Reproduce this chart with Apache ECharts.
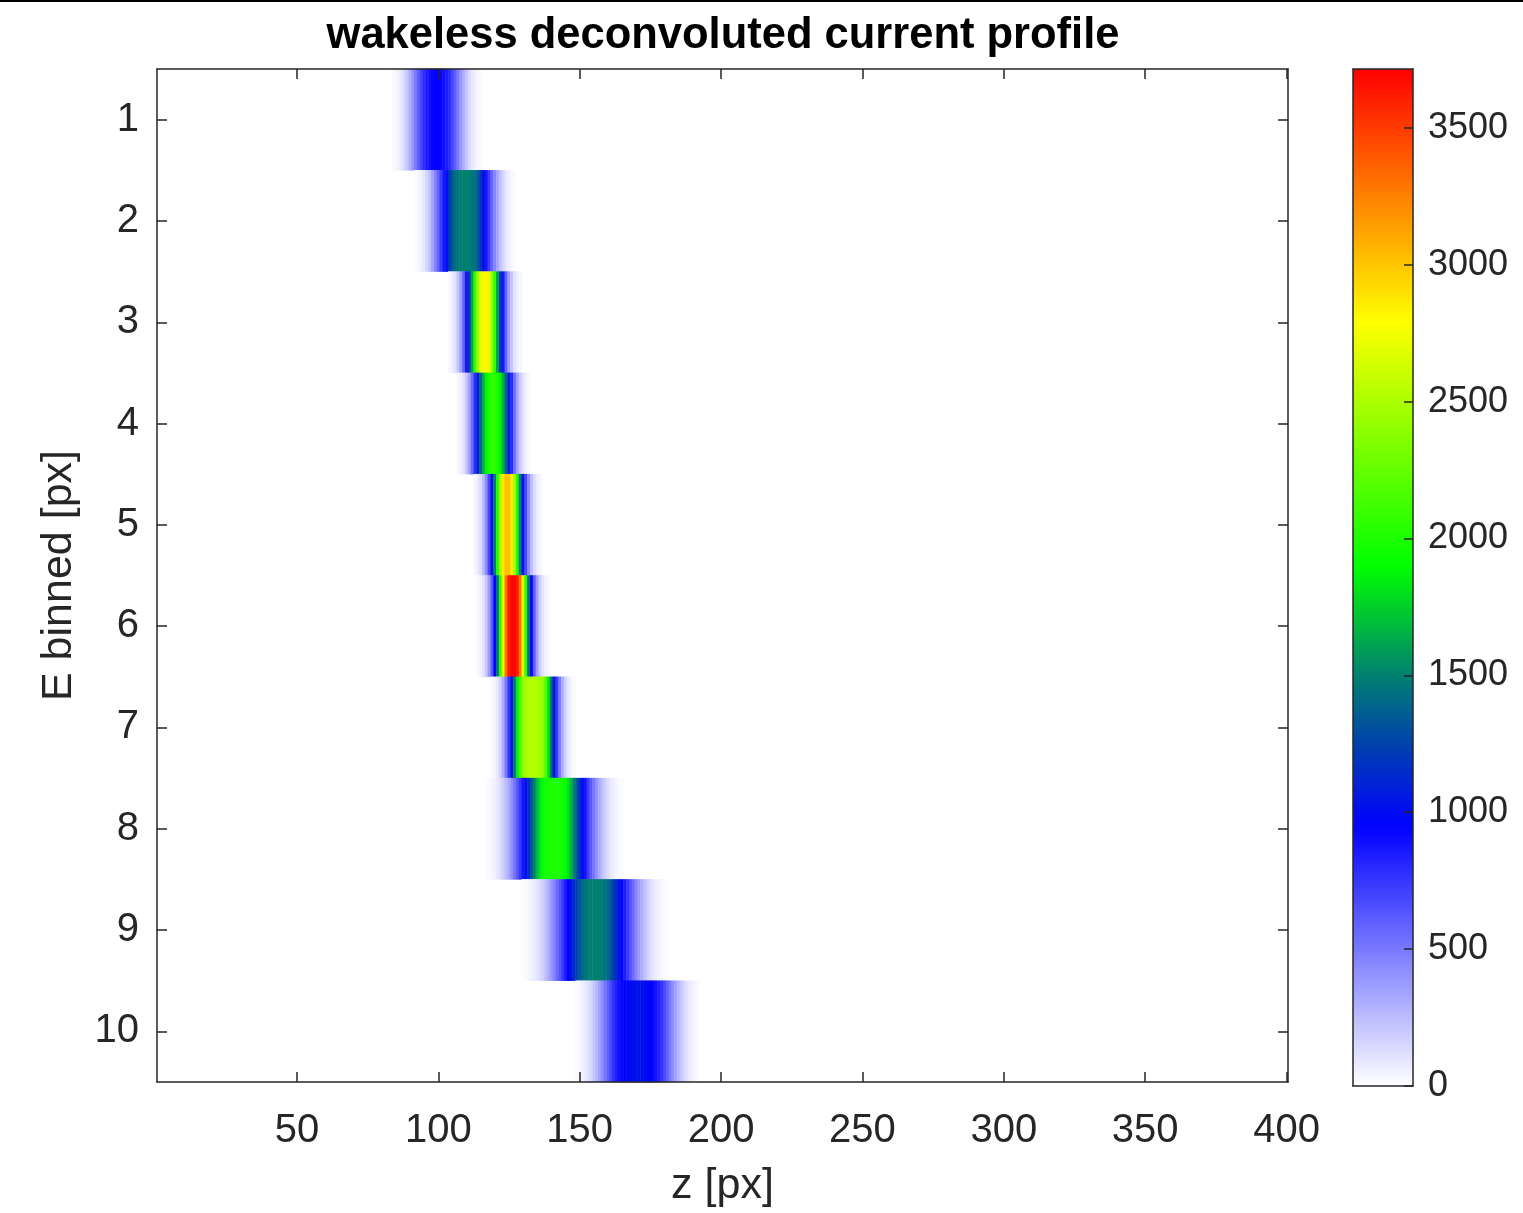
<!DOCTYPE html>
<html>
<head>
<meta charset="utf-8">
<script src="https://cdn.jsdelivr.net/npm/echarts@6/dist/echarts.min.js"></script>
<style>
html,body{margin:0;padding:0;background:#ffffff;}
#chart{width:1523px;height:1213px;}
</style>
</head>
<body>
<div id="chart"></div>
<script>
// ---------------- data ----------------
const titleText = 'wakeless deconvoluted current profile';
const xName = 'z [px]';
const yName = 'E binned [px]';
const zBinCount = 400;                       // z [px] columns 1..400
const xTickLabels = [50, 100, 150, 200, 250, 300, 350, 400];
const yCategories = ['1', '2', '3', '4', '5', '6', '7', '8', '9', '10'];
const cbarTicks = [0, 500, 1000, 1500, 2000, 2500, 3000, 3500];
const cbarMin = 0;
const cbarMax = 3715;

// first z [px] of each row's listed profile
const rowStarts = [84, 92, 104, 107, 113, 114, 119, 117, 130, 149];

// current profile per E bin, one value per z pixel starting at rowStarts[i]
const row1 = [15,30,55,92,145,215,300,395,495,595,690,775,845,895,930,947,
              947,930,895,845,775,690,595,495,395,300,215,145,92,55,30,15];
const row2 = [15,30,55,95,155,235,335,450,580,720,870,1020,1200,1340,1440,1460,1490,1500,
              1500,1490,1460,1440,1340,1200,1020,870,720,580,450,335,235,155,95,55,30,15];
const row3 = [30,60,115,210,360,580,870,1220,1620,2050,2420,2700,2820,
              2820,2700,2420,2050,1620,1220,870,580,360,210,115,60,30];
const row4 = [28,58,110,200,340,540,790,1080,1380,1650,1870,2000,2050,
              2050,2000,1870,1650,1380,1080,790,540,340,200,110,58,28];
const row5 = [35,70,135,250,430,690,1040,1480,2000,2500,2870,3020,
              3020,2870,2500,2000,1480,1040,690,430,250,135,70,35];
const row6 = [25,52,105,200,360,610,970,1450,2050,2700,3300,3620,3700,
              3700,3620,3300,2700,2050,1450,970,610,360,200,105,52,25];
const row7 = [20,45,90,170,300,490,750,1070,1450,1850,2180,2380,2470,2510,2520,
              2520,2510,2470,2380,2180,1850,1450,1070,750,490,300,170,90,45,20];
const row8 = [12,22,38,60,90,130,180,245,320,410,510,620,740,870,1010,1160,1330,1510,1680,1810,1900,1950,1980,1995,
              2000,
              1995,1980,1950,1900,1810,1680,1510,1330,1160,1010,870,740,620,510,410,320,245,180,130,90,60,38,22,12];
const row9 = [12,20,32,48,70,98,135,180,235,300,375,455,545,640,740,840,940,1040,1140,1240,1330,1400,1450,1480,1495,1500,
              1500,1495,1480,1450,1400,1330,1240,1140,1040,940,840,740,640,545,455,375,300,235,180,135,98,70,48,32,20,12];
const row10 = [20,32,50,75,108,150,205,270,340,420,505,595,680,760,830,885,930,965,990,1005,1015,1020,
               1020,1015,1005,990,965,930,885,830,760,680,595,505,420,340,270,205,150,108,75,50,32,20];

// colormap anchors (value -> rgb), style only
const cmapAnchors = [
  [0,    [255, 255, 255]],
  [950,  [0, 0, 255]],
  [1250, [0, 66, 172]],
  [1500, [0, 128, 112]],
  [1900, [0, 255, 0]],
  [2790, [255, 255, 0]],
  [3715, [255, 0, 0]]
];

// ---------------- build ----------------
const zCategories = [];
for (let z = 1; z <= zBinCount; z++) zCategories.push(String(z));

const rows = [row1, row2, row3, row4, row5, row6, row7, row8, row9, row10];
const heatData = [];
rows.forEach(function (vals, r) {
  vals.forEach(function (v, k) {
    heatData.push([rowStarts[r] + k - 1, r, v]);
  });
});

function cmapAt(v) {
  for (let i = 1; i < cmapAnchors.length; i++) {
    const a = cmapAnchors[i - 1], b = cmapAnchors[i];
    if (v <= b[0]) {
      const t = (v - a[0]) / (b[0] - a[0]);
      const c = a[1].map(function (ch, j) { return Math.round(ch + (b[1][j] - ch) * t); });
      return 'rgb(' + c.join(',') + ')';
    }
  }
  const last = cmapAnchors[cmapAnchors.length - 1][1];
  return 'rgb(' + last.join(',') + ')';
}
const cmapColors = [];
const nColors = 256;
for (let i = 0; i < nColors; i++) {
  cmapColors.push(cmapAt(cbarMin + (cbarMax - cbarMin) * i / (nColors - 1)));
}

const FONT = '"Liberation Sans", Arial, Helvetica, sans-serif';
const AX = '#262626';
const isXTick = function (index, value) { return xTickLabels.indexOf(Number(value)) >= 0; };

const chart = echarts.init(document.getElementById('chart'), null, { renderer: 'canvas' });
const option = {
  backgroundColor: '#ffffff',
  animation: false,
  textStyle: { fontFamily: FONT },
  grid: [
    { left: 157, top: 69, width: 1131, height: 1017, containLabel: false },
    { left: 1353, top: 69, width: 60, height: 1017, containLabel: false }
  ],
  xAxis: [
    {
      type: 'category', gridIndex: 0, data: zCategories, position: 'bottom', z: 5,
      boundaryGap: true,
      axisLine: { show: true, onZero: false, lineStyle: { color: AX, width: 1.5 } },
      axisTick: { show: true, inside: true, length: 10, alignWithLabel: true, interval: isXTick, lineStyle: { color: AX, width: 1.5 } },
      axisLabel: { show: true, interval: isXTick, fontSize: 40, color: AX, margin: 29, fontFamily: FONT },
      splitLine: { show: false },
      name: xName, nameLocation: 'middle', nameGap: 83,
      nameTextStyle: { fontSize: 43, color: AX, fontFamily: FONT }
    },
    {
      type: 'category', gridIndex: 0, data: zCategories, position: 'top', z: 5,
      boundaryGap: true,
      axisLine: { show: true, onZero: false, lineStyle: { color: AX, width: 1.5 } },
      axisTick: { show: true, inside: true, length: 10, alignWithLabel: true, interval: isXTick, lineStyle: { color: AX, width: 1.5 } },
      axisLabel: { show: false },
      splitLine: { show: false }
    },
    {
      type: 'category', gridIndex: 1, data: [''], position: 'bottom', z: 5,
      axisLine: { show: true, onZero: false, lineStyle: { color: AX, width: 1.5 } },
      axisTick: { show: false }, axisLabel: { show: false }, splitLine: { show: false }
    },
    {
      type: 'category', gridIndex: 1, data: [''], position: 'top', z: 5,
      axisLine: { show: true, onZero: false, lineStyle: { color: AX, width: 1.5 } },
      axisTick: { show: false }, axisLabel: { show: false }, splitLine: { show: false }
    }
  ],
  yAxis: [
    {
      type: 'category', gridIndex: 0, data: yCategories, inverse: true, position: 'left', z: 5,
      boundaryGap: true,
      axisLine: { show: true, onZero: false, lineStyle: { color: AX, width: 1.5 } },
      axisTick: { show: true, inside: true, length: 10, alignWithLabel: true, interval: 0, lineStyle: { color: AX, width: 1.5 } },
      axisLabel: { show: true, interval: 0, fontSize: 40, color: AX, margin: 18, fontFamily: FONT, padding: [4, 0, 0, 0] },
      splitLine: { show: false },
      name: yName, nameLocation: 'middle', nameGap: 76, nameRotate: 90,
      nameTextStyle: { fontSize: 43, color: AX, fontFamily: FONT }
    },
    {
      type: 'category', gridIndex: 0, data: yCategories, inverse: true, position: 'right', z: 5,
      boundaryGap: true,
      axisLine: { show: true, onZero: false, lineStyle: { color: AX, width: 1.5 } },
      axisTick: { show: true, inside: true, length: 10, alignWithLabel: true, interval: 0, lineStyle: { color: AX, width: 1.5 } },
      axisLabel: { show: false },
      splitLine: { show: false }
    },
    {
      type: 'value', gridIndex: 1, min: cbarMin, max: cbarMax, position: 'right', z: 5,
      axisLine: { show: true, onZero: false, lineStyle: { color: AX, width: 1.5 } },
      axisTick: { show: true, inside: true, length: 9, customValues: cbarTicks, lineStyle: { color: AX, width: 1.5 } },
      axisLabel: {
        show: true, customValues: cbarTicks, fontSize: 36, color: AX, margin: 15, fontFamily: FONT,
        padding: [7, 0, 0, 0],
        formatter: function (v) { return String(v); }
      },
      splitLine: { show: false }
    },
    {
      type: 'value', gridIndex: 1, min: cbarMin, max: cbarMax, position: 'left', z: 5,
      axisLine: { show: true, onZero: false, lineStyle: { color: AX, width: 1.5 } },
      axisTick: { show: false }, axisLabel: { show: false }, splitLine: { show: false }
    }
  ],
  visualMap: {
    type: 'continuous',
    seriesIndex: 0,
    min: cbarMin, max: cbarMax,
    calculable: false,
    orient: 'vertical',
    left: 1353, top: 69,
    itemWidth: 60, itemHeight: 1017,
    padding: 0,
    text: null,
    showLabel: false,
    hoverLink: false,
    z: 1,
    inRange: { color: cmapColors }
  },
  graphic: [
    {
      type: 'rect', left: 0, top: 0, z: 10,
      shape: { width: 1523, height: 2 },
      style: { fill: '#000000' }
    },
    {
      type: 'text', x: 723, y: 36, z: 10,
      style: {
        text: titleText, align: 'center', verticalAlign: 'middle',
        font: 'bold 43.5px ' + FONT, fill: '#000000'
      }
    }
  ],
  series: [
    {
      type: 'heatmap', xAxisIndex: 0, yAxisIndex: 0,
      data: heatData,
      progressive: 0,
      itemStyle: { borderWidth: 0 },
      emphasis: { disabled: true }
    }
  ]
};
chart.setOption(option);
</script>
</body>
</html>
